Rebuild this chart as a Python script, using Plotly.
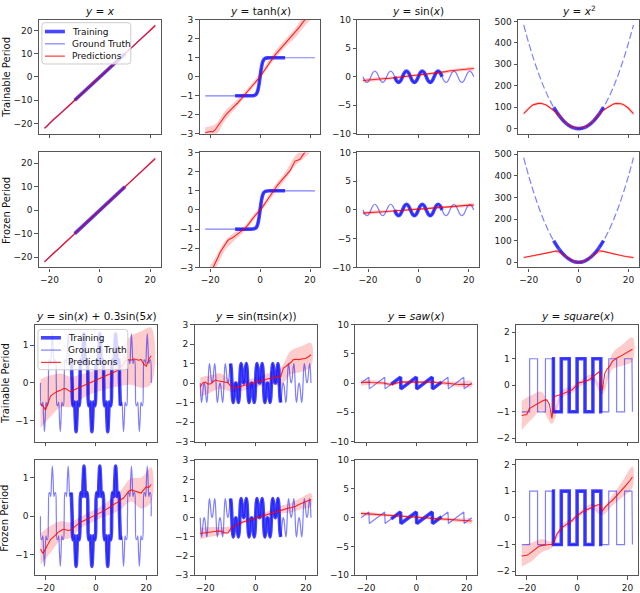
import numpy as np
import plotly.graph_objects as go

# ---------------- data ----------------
X_PRED = list(range(-22, 23))          # prediction sample positions
X_BAND = X_PRED[::4]                   # band sample positions

X_LIN = [-22, -10, 10, 22]
Y_LIN = [-22, -10, 10, 22]

X_TANH = [-22, -10, -4, -3, -2, -1.5, -1, -0.5, 0, 0.5, 1, 1.5, 2, 3, 4, 10, 22]
Y_TANH = [-1, -1, -1, -0.995, -0.964, -0.905, -0.762, -0.462, 0, 0.462, 0.762, 0.905, 0.964, 0.995, 1, 1, 1]

Y_SIN = [0, -0.71, -1, -0.71, 0, 0.71, 1, 0.71,
         0, -0.71, -1, -0.71, 0, 0.71, 1, 0.71,
         0, -0.71, -1, -0.71, 0, 0.71, 1, 0.71,
         0, -0.71, -1, -0.71, 0, 0.71, 1, 0.71,
         0, -0.71, -1, -0.71, 0, 0.71, 1, 0.71,
         0, -0.71, -1, -0.71, 0, 0.71, 1, 0.71,
         0, -0.71, -1, -0.71, 0, 0.71, 1, 0.71, 0]

Y_X2 = [484, 400, 324, 256, 196, 144, 100, 64, 36, 16, 4, 0, 4, 16, 36, 64, 100, 144, 196, 256, 324, 400, 484]

Y_SIN5 = [0, -0.61, -0.59, -0.51, -0.95, -1.3, -0.95, -0.51, -0.59, -0.61, 0, 0.61, 0.59, 0.51, 0.95, 1.3, 0.95, 0.51, 0.59, 0.61,
          0, -0.61, -0.59, -0.51, -0.95, -1.3, -0.95, -0.51, -0.59, -0.61, 0, 0.61, 0.59, 0.51, 0.95, 1.3, 0.95, 0.51, 0.59, 0.61,
          0, -0.61, -0.59, -0.51, -0.95, -1.3, -0.95, -0.51, -0.59, -0.61, 0, 0.61, 0.59, 0.51, 0.95, 1.3, 0.95, 0.51, 0.59, 0.61,
          0, -0.61, -0.59, -0.51, -0.95, -1.3, -0.95, -0.51, -0.59, -0.61, 0, 0.61, 0.59, 0.51, 0.95, 1.3, 0.95, 0.51, 0.59, 0.61,
          0, -0.61, -0.59, -0.51, -0.95, -1.3, -0.95, -0.51, -0.59, -0.61, 0, 0.61, 0.59, 0.51, 0.95, 1.3, 0.95, 0.51, 0.59, 0.61,
          0, -0.61, -0.59, -0.51, -0.95, -1.3, -0.95, -0.51, -0.59, -0.61, 0, 0.61, 0.59, 0.51, 0.95, 1.3, 0.95, 0.51, 0.59, 0.61,
          0, -0.61, -0.59, -0.51, -0.95, -1.3, -0.95, -0.51, -0.59, -0.61, 0, 0.61, 0.59, 0.51, 0.95, 1.3, 0.95, 0.51, 0.59, 0.61, 0]

Y_SINPI = [0, -0.73, -1, -0.8, -0.41, -0.11, 0, -0.11, -0.41, -0.8, -1, -0.73, 0, 0.73, 1, 0.8, 0.41, 0.11, 0, 0.11, 0.41, 0.8, 1, 0.73,
           0, -0.73, -1, -0.8, -0.41, -0.11, 0, -0.11, -0.41, -0.8, -1, -0.73, 0, 0.73, 1, 0.8, 0.41, 0.11, 0, 0.11, 0.41, 0.8, 1, 0.73,
           0, -0.73, -1, -0.8, -0.41, -0.11, 0, -0.11, -0.41, -0.8, -1, -0.73, 0, 0.73, 1, 0.8, 0.41, 0.11, 0, 0.11, 0.41, 0.8, 1, 0.73,
           0, -0.73, -1, -0.8, -0.41, -0.11, 0, -0.11, -0.41, -0.8, -1, -0.73, 0, 0.73, 1, 0.8, 0.41, 0.11, 0, 0.11, 0.41, 0.8, 1, 0.73,
           0, -0.73, -1, -0.8, -0.41, -0.11, 0, -0.11, -0.41, -0.8, -1, -0.73, 0, 0.73, 1, 0.8, 0.41, 0.11, 0, 0.11, 0.41, 0.8, 1, 0.73,
           0, -0.73, -1, -0.8, -0.41, -0.11, 0, -0.11, -0.41, -0.8, -1, -0.73, 0, 0.73, 1, 0.8, 0.41, 0.11, 0, 0.11, 0.41, 0.8, 1, 0.73,
           0, -0.73, -1, -0.8, -0.41, -0.11, 0, -0.11, -0.41, -0.8, -1, -0.73, 0, 0.73, 1, 0.8, 0.41, 0.11, 0, 0.11, 0.41, 0.8, 1, 0.73, 0]

X_SAW = [-22.0, -18.85, -18.7, -12.57, -12.42, -10.0, -6.28, -6.13, 0.0, 0.15, 6.28, 6.43, 10.0, 12.57, 12.72, 18.85, 19.0, 22.0]
Y_SAW = [0.0, 1.0, -1.0, 1.0, -1.0, -0.2, 1.0, -1.0, 1.0, -1.0, 1.0, -1.0, 0.16, 1.0, -1.0, 1.0, -1.0, 0.0]

X_SQW = [-22, -18.85, -18.85, -15.71, -15.71, -12.57, -12.57, -10, -9.42, -9.42, -6.28, -6.28, -3.14, -3.14, 0, 0,
         3.14, 3.14, 6.28, 6.28, 9.42, 9.42, 10, 12.57, 12.57, 15.71, 15.71, 18.85, 18.85, 21.8, 22]
Y_SQW = [-1, -1, 1, 1, -1, -1, 1, 1, 1, -1, -1, 1, 1, -1, -1, 1,
         1, -1, -1, 1, 1, -1, -1, -1, 1, 1, -1, -1, 1, 1, -1]

# predictions (mean), x = -22..22
P11 = [-22.0, -21.2, -19.9, -18.6, -17.8,  -17.0, -15.9, -14.8, -14.0, -13.1,  -12.0, -11.1, -10.0, -9.1, -8.0,
       -7.0, -6.1, -5.0, -4.0, -2.9,  -2.0, -1.0, 0.0, 1.0, 2.0,  3.1, 4.0, 5.0, 6.0, 7.0,
       8.0, 9.1, 10.0, 11.0, 12.1,  13.0, 14.0, 15.1, 16.0, 17.0,  18.1, 19.0, 20.0, 21.1, 22.2]
P21 = [-22.0, -20.9, -20.0, -18.8, -17.9,  -17.1, -16.0, -14.9, -13.9, -13.0,  -12.1, -11.0, -10.0, -9.0, -8.1,
       -7.0, -6.0, -5.1, -4.0, -3.0,  -2.0, -1.0, 0.0, 1.1, 2.0,  3.0, 4.0, 5.1, 6.0, 7.0,
       8.1, 9.0, 10.0, 11.0, 12.0,  13.1, 14.0, 15.0, 16.0, 17.1,  18.0, 19.0, 20.1, 21.0, 22.0]
P12 = [-2.95, -2.9, -2.88, -2.9, -2.8,  -2.6, -2.4, -2.2, -2.05, -1.9,  -1.75, -1.62, -1.5, -1.38, -1.22,
       -1.05, -0.9, -0.75, -0.6, -0.45,  -0.3, -0.15, 0.0, 0.2, 0.42,  0.62, 0.82, 1.02, 1.15, 1.3,
       1.45, 1.6, 1.75, 1.9, 2.02,  2.15, 2.3, 2.5, 2.65, 2.85,  3.0, 3.15, 3.3, 3.45, 3.6]
P22 = [-3.6, -3.45, -3.3, -3.05, -2.8,  -2.5, -2.2, -2.0, -1.85, -1.6,  -1.5, -1.45, -1.35, -1.25, -1.15,
       -1.05, -0.95, -0.8, -0.6, -0.45,  -0.3, -0.15, -0.05, 0.15, 0.35,  0.55, 0.75, 0.95, 1.1, 1.3,
       1.45, 1.6, 1.75, 1.9, 2.05,  2.3, 2.55, 2.6, 2.65, 2.85,  3.05, 3.2, 3.35, 3.5, 3.65]
P13 = [-0.65, -0.6, -0.55, -0.55, -0.5,  -0.45, -0.4, -0.4, -0.35, -0.3,  -0.3, -0.25, -0.2, -0.15, -0.1,
       -0.05, 0.0, 0.05, 0.1, 0.15,  0.2, 0.2, 0.25, 0.3, 0.35,  0.4, 0.45, 0.5, 0.55, 0.6,
       0.7, 0.75, 0.8, 0.9, 1.0,  1.05, 1.1, 1.15, 1.2, 1.25,  1.3, 1.35, 1.4, 1.4, 1.45]
P23 = [-0.55, -0.5, -0.5, -0.45, -0.4,  -0.4, -0.35, -0.35, -0.3, -0.3,  -0.25, -0.25, -0.2, -0.15, -0.1,
       -0.1, -0.05, 0.0, 0.05, 0.05,  0.1, 0.1, 0.15, 0.2, 0.2,  0.25, 0.3, 0.3, 0.35, 0.4,
       0.4, 0.45, 0.5, 0.5, 0.55,  0.6, 0.6, 0.65, 0.7, 0.7,  0.75, 0.8, 0.8, 0.85, 0.85]
P14 = [70, 82, 95, 105, 112,  116, 118, 118, 115, 110,  102, 94, 86, 78, 66,
       50, 37, 26, 17, 10,  5, 3, 2, 3, 5,  10, 17, 26, 37, 50,
       66, 78, 86, 94, 102,  110, 115, 118, 118, 116,  112, 105, 95, 82, 70]
P24 = [22, 24, 26, 28, 30,  32, 34, 37, 39, 42,  44, 47, 50, 53, 50,
       42, 33, 24, 16, 9,  4, 1, 0, 1, 4,  9, 16, 24, 33, 42,
       52, 53, 50, 47, 44,  42, 39, 36, 34, 31,  29, 27, 25, 23, 22]
P31 = [-0.55, -0.62, -0.72, -0.55, -0.35,  -0.3, -0.25, -0.22, -0.2, -0.16,  -0.15, -0.2, -0.24, -0.2, -0.17,
       -0.14, -0.11, -0.08, -0.05, -0.02,  0.0, 0.03, 0.06, 0.09, 0.11,  0.14, 0.17, 0.2, 0.24, 0.27,
       0.31, 0.36, 0.42, 0.5, 0.6,  0.62, 0.6, 0.64, 0.62, 0.6,  0.62, 0.5, 0.44, 0.62, 0.72]
P41 = [-0.85, -0.97, -0.85, -0.72, -0.6,  -0.55, -0.48, -0.42, -0.38, -0.34,  -0.35, -0.37, -0.36, -0.3, -0.25,
       -0.2, -0.16, -0.13, -0.1, -0.07,  -0.03, 0.0, 0.03, 0.07, 0.1,  0.13, 0.17, 0.2, 0.25, 0.3,
       0.33, 0.37, 0.43, 0.47, 0.55,  0.64, 0.68, 0.66, 0.64, 0.63,  0.6, 0.68, 0.76, 0.74, 0.82]
P32 = [-0.2, 0.0, 0.05, -0.05, -0.05,  0.05, 0.15, 0.12, 0.1, 0.05,  0.04, 0.02, -0.15, -0.28, -0.25,
       -0.2, -0.17, -0.14, -0.1, -0.07,  -0.03, 0.0, 0.03, 0.07, 0.1,  0.15, 0.18, 0.22, 0.25, 0.27,
       0.29, 0.3, 0.33, 0.75, 0.85,  0.95, 1.05, 1.2, 1.22, 1.2,  1.22, 1.25, 1.27, 1.35, 1.45]
P42 = [-0.82, -0.8, -0.78, -0.76, -0.74,  -0.72, -0.7, -0.69, -0.7, -0.75,  -0.8, -0.8, -0.6, -0.48, -0.4,
       -0.33, -0.27, -0.22, -0.18, -0.14,  -0.1, -0.05, 0.0, 0.04, 0.08,  0.12, 0.16, 0.2, 0.25, 0.29,
       0.33, 0.38, 0.42, 0.46, 0.48,  0.5, 0.52, 0.55, 0.6, 0.68,  0.74, 0.8, 0.85, 0.9, 0.93]
P33 = [0.05, 0.1, 0.1, 0.15, 0.1,  0.1, 0.05, 0.1, 0.05, 0.0,  -0.1, -0.2, -0.25, -0.15, 0.0,
       0.1, 0.15, 0.2, 0.2, 0.2,  0.15, 0.15, 0.15, 0.2, 0.2,  0.25, 0.2, 0.2, 0.15, 0.15,
       0.1, 0.1, 0.05, 0.0, -0.05,  -0.1, -0.15, -0.2, -0.2, -0.25,  -0.2, -0.25, -0.3, -0.25, -0.2]
P43 = [0.75, 0.72, 0.7, 0.66, 0.63,  0.6, 0.57, 0.54, 0.5, 0.48,  0.45, 0.42, 0.38, 0.35, 0.32,
       0.3, 0.26, 0.23, 0.2, 0.17,  0.14, 0.11, 0.08, 0.05, 0.02,  -0.01, -0.04, -0.07, -0.1, -0.13,
       -0.16, -0.19, -0.22, -0.25, -0.28,  -0.31, -0.34, -0.37, -0.4, -0.43,  -0.46, -0.49, -0.52, -0.55, -0.58]
P34 = [-1.14, -1.12, -1.1, -0.88, -0.82,  -0.79, -0.72, -0.65, -0.6, -0.56,  -0.55, -0.72, -1.25, -0.42, -0.4,
       -0.37, -0.33, -0.3, -0.26, -0.22,  -0.17, -0.08, 0.02, 0.11, 0.12,  0.14, 0.17, 0.22, 0.29, 0.36,
       0.43, 0.53, -0.2, 0.45, 0.62,  0.72, 0.9, 0.98, 1.04, 1.08,  1.14, 1.2, 1.24, 1.3, 1.36]
P44 = [-1.43, -1.42, -1.4, -1.35, -1.27,  -1.2, -1.12, -1.06, -1.04, -1.02,  -1.0, -1.0, -1.0, -0.85, -0.6,
       -0.47, -0.36, -0.3, -0.24, -0.17,  -0.1, 0.0, 0.08, 0.17, 0.22,  0.27, 0.31, 0.36, 0.42, 0.46,
       0.48, 0.5, 0.25, 0.38, 0.5,  0.58, 0.65, 0.75, 0.87, 0.97,  1.07, 1.17, 1.28, 1.4, 1.53]

# uncertainty band half-widths at x = -22, -18, ..., 22
W11 = [0.5] * 12
W21 = [0.5] * 12
W12 = [0.3, 0.3, 0.25, 0.2, 0.15, 0.15, 0.15, 0.2, 0.2, 0.25, 0.3, 0.3]
W22 = [0.3, 0.3, 0.25, 0.2, 0.15, 0.15, 0.15, 0.2, 0.2, 0.25, 0.3, 0.3]
W13 = [0.4, 0.35, 0.3, 0.25, 0.25, 0.2, 0.2, 0.25, 0.25, 0.3, 0.3, 0.3]
W23 = [0.3, 0.3, 0.25, 0.2, 0.2, 0.2, 0.2, 0.2, 0.2, 0.25, 0.3, 0.3]
W14 = [6, 6, 5, 4, 3, 3, 3, 3, 4, 5, 6, 6]
W24 = [4, 4, 3, 3, 3, 2, 2, 3, 3, 3, 4, 4]
W31 = [0.65, 0.55, 0.45, 0.4, 0.33, 0.3, 0.32, 0.38, 0.5, 0.65, 0.75, 0.75]
W41 = [0.4, 0.35, 0.25, 0.2, 0.15, 0.15, 0.15, 0.2, 0.25, 0.3, 0.4, 0.45]
W32 = [0.5, 0.45, 0.4, 0.3, 0.25, 0.25, 0.25, 0.3, 0.45, 0.6, 0.65, 0.6]
W42 = [0.3, 0.25, 0.2, 0.15, 0.1, 0.1, 0.1, 0.15, 0.2, 0.25, 0.3, 0.35]
W33 = [0.5, 0.4, 0.3, 0.25, 0.2, 0.2, 0.2, 0.2, 0.3, 0.4, 0.5, 0.5]
W43 = [0.35, 0.3, 0.25, 0.2, 0.2, 0.2, 0.2, 0.2, 0.25, 0.3, 0.35, 0.4]
W34 = [0.55, 0.45, 0.35, 0.2, 0.15, 0.12, 0.12, 0.12, 0.15, 0.3, 0.4, 0.45]
W44 = [0.4, 0.35, 0.25, 0.12, 0.1, 0.1, 0.1, 0.12, 0.15, 0.2, 0.3, 0.4]

TITLES = ["<i>y</i> = <i>x</i>", "<i>y</i> = tanh(<i>x</i>)", "<i>y</i> = sin(<i>x</i>)", "<i>y</i> = <i>x</i><sup>2</sup>",
          "<i>y</i> = sin(<i>x</i>) + 0.3sin(5<i>x</i>)", "<i>y</i> = sin(πsin(<i>x</i>))",
          "<i>y</i> = <i>saw</i>(<i>x</i>)", "<i>y</i> = <i>square</i>(<i>x</i>)"]
ROW_LABELS = ["Trainable Period", "Frozen Period", "Trainable Period", "Frozen Period"]
LEGEND_LABELS = ["Training", "Ground Truth", "Predictions"]
X_TICKS = [-20, 0, 20]

# ---------------- layout geometry (pixels) ----------------
W, H = 640, 593
COLS_TOP = [(39, 161), (200, 321), (358, 480), (519, 640)]
COLS_BOT = [(35, 157), (195, 317), (356, 478), (517, 639)]
ROWS = [(15, 131), (150, 267), (325, 444), (463, 580)]

C_GT = "rgba(0,0,255,0.5)"
C_TR = "rgba(0,0,255,0.72)"
C_PR = "rgba(255,0,0,0.85)"
C_BAND = "rgba(255,0,0,0.2)"

TRUTH = {
    "lin": (X_LIN, Y_LIN, "linear", "solid"),
    "tanh": (X_TANH, Y_TANH, "spline", "solid"),
    "sin": (list(np.linspace(-22, 22, len(Y_SIN))), Y_SIN, "spline", "solid"),
    "x2": (list(np.linspace(-22, 22, len(Y_X2))), Y_X2, "spline", "7px,3px"),
    "sin5": (list(np.linspace(-22, 22, len(Y_SIN5))), Y_SIN5, "spline", "solid"),
    "sinpi": (list(np.linspace(-22, 22, len(Y_SINPI))), Y_SINPI, "spline", "solid"),
    "saw": (X_SAW, Y_SAW, "linear", "solid"),
    "sqw": (X_SQW, Y_SQW, "linear", "solid"),
}

PANELS = [
    # row, col, truth, pred, band, yrange, yticks
    (0, 0, "lin", P11, W11, [-24.4, 24.6], [-20, -10, 0, 10, 20]),
    (0, 1, "tanh", P12, W12, [-3, 3], [-3, -2, -1, 0, 1, 2, 3]),
    (0, 2, "sin", P13, W13, [-10, 10], [-10, -5, 0, 5, 10]),
    (0, 3, "x2", P14, W14, [-24, 508], [0, 100, 200, 300, 400, 500]),
    (1, 0, "lin", P21, W21, [-24.4, 24.6], [-20, -10, 0, 10, 20]),
    (1, 1, "tanh", P22, W22, [-3, 3], [-3, -2, -1, 0, 1, 2, 3]),
    (1, 2, "sin", P23, W23, [-10, 10], [-10, -5, 0, 5, 10]),
    (1, 3, "x2", P24, W24, [-24, 508], [0, 100, 200, 300, 400, 500]),
    (2, 0, "sin5", P31, W31, [-1.56, 1.55], [-1, 0, 1]),
    (2, 1, "sinpi", P32, W32, [-3, 3], [-3, -2, -1, 0, 1, 2, 3]),
    (2, 2, "saw", P33, W33, [-10, 10], [-10, -5, 0, 5, 10]),
    (2, 3, "sqw", P34, W34, [-2.12, 2.29], [-2, -1, 0, 1, 2]),
    (3, 0, "sin5", P41, W41, [-1.53, 1.45], [-1, 0, 1]),
    (3, 1, "sinpi", P42, W42, [-3, 3], [-3, -2, -1, 0, 1, 2, 3]),
    (3, 2, "saw", P43, W43, [-10, 10], [-10, -5, 0, 5, 10]),
    (3, 3, "sqw", P44, W44, [-2.15, 2.16], [-2, -1, 0, 1, 2]),
]

FONT = "DejaVu Sans"
SPINE = "#555555"
fig = go.Figure()
layout = {}
annotations = []
shapes = []

for (r, c, tkey, pred, band, yr, yt) in PANELS:
    k = r * 4 + c + 1
    sfx = "" if k == 1 else str(k)
    xa, ya = "x" + sfx, "y" + sfx

    # band
    cen = pred[::4]
    up = [m + w for m, w in zip(cen, band)]
    lo = [m - w for m, w in zip(cen, band)]
    fig.add_trace(go.Scatter(x=X_BAND + X_BAND[::-1], y=up + lo[::-1], fill="toself",
                             fillcolor=C_BAND, line=dict(width=0, shape="spline"),
                             mode="lines", hoverinfo="skip", showlegend=False, xaxis=xa, yaxis=ya))
    tx, ty, shape, dash = TRUTH[tkey]
    # ground truth
    fig.add_trace(go.Scatter(x=tx, y=ty, mode="lines", name="Ground Truth",
                             line=dict(color=C_GT, width=1.2, shape=shape, dash=dash),
                             showlegend=False, xaxis=xa, yaxis=ya))
    # training part
    trx = [x for x in tx if -10 <= x <= 10]
    tr_y = [y for x, y in zip(tx, ty) if -10 <= x <= 10]
    fig.add_trace(go.Scatter(x=trx, y=tr_y, mode="lines", name="Training",
                             line=dict(color=C_TR, width=3.6, shape=shape),
                             showlegend=False, xaxis=xa, yaxis=ya))
    # predictions
    fig.add_trace(go.Scatter(x=X_PRED, y=pred, mode="lines", name="Predictions",
                             line=dict(color=C_PR, width=1.1),
                             showlegend=False, xaxis=xa, yaxis=ya))

    cx = COLS_TOP[c] if r < 2 else COLS_BOT[c]
    ry = ROWS[r]
    common = dict(showgrid=False, zeroline=False, showline=True, mirror=True, linecolor=SPINE, linewidth=1.2,
                  ticks="outside", ticklen=3.5, tickwidth=1, tickcolor=SPINE,
                  tickfont=dict(family=FONT, size=9, color="#1a1a1a"))
    layout["xaxis" + sfx] = dict(domain=[cx[0] / W, cx[1] / W], anchor=ya, range=[-24.2, 24.2],
                                 tickvals=X_TICKS, showticklabels=(r in (1, 3)), **common)
    layout["yaxis" + sfx] = dict(domain=[1 - ry[1] / H, 1 - ry[0] / H], anchor=xa, range=yr,
                                 tickvals=yt, **common)
    if r in (0, 2):
        annotations.append(dict(text=TITLES[(r // 2) * 4 + c], x=(cx[0] + cx[1]) / 2 / W, y=1 - (ry[0] - 1) / H,
                                xref="paper", yref="paper", xanchor="center", yanchor="bottom",
                                showarrow=False, font=dict(family=FONT, size=10.5, color="#111")))
    if c == 0:
        annotations.append(dict(text=ROW_LABELS[r], x=(7 if r < 2 else 5) / W, y=1 - (ry[0] + ry[1]) / 2 / H,
                                xref="paper", yref="paper", xanchor="center", yanchor="middle", textangle=-90,
                                showarrow=False, font=dict(family=FONT, size=10, color="#111")))


# ---------------- hand-drawn legends (pixel boxes) ----------------
def px(x):
    return x / W


def py(y):
    return 1 - y / H


def add_legend(box, rows_y, line_x, text_x):
    x0, y0, x1, y1 = box
    rad = 3
    path = (f"M {px(x0 + rad)},{py(y0)} L {px(x1 - rad)},{py(y0)} Q {px(x1)},{py(y0)} {px(x1)},{py(y0 + rad)} "
            f"L {px(x1)},{py(y1 - rad)} Q {px(x1)},{py(y1)} {px(x1 - rad)},{py(y1)} "
            f"L {px(x0 + rad)},{py(y1)} Q {px(x0)},{py(y1)} {px(x0)},{py(y1 - rad)} "
            f"L {px(x0)},{py(y0 + rad)} Q {px(x0)},{py(y0)} {px(x0 + rad)},{py(y0)} Z")
    shapes.append(dict(type="path", path=path, xref="paper", yref="paper",
                       fillcolor="rgba(255,255,255,0.8)", line=dict(color="#cccccc", width=1), layer="above"))
    styles = [(C_TR, 3.6), (C_GT, 1.2), (C_PR, 1.1)]
    for yy, (col, wd), lab in zip(rows_y, styles, LEGEND_LABELS):
        shapes.append(dict(type="line", xref="paper", yref="paper", x0=px(line_x[0]), x1=px(line_x[1]),
                           y0=py(yy), y1=py(yy), line=dict(color=col, width=wd), layer="above"))
        annotations.append(dict(text=lab, x=px(text_x), y=py(yy), xref="paper", yref="paper",
                                xanchor="left", yanchor="middle", showarrow=False,
                                font=dict(family=FONT, size=9, color="#111")))


add_legend((42, 18, 131, 60), [27, 39.5, 52], (45, 65), (70))
add_legend((38, 330, 128, 371), [338.5, 351, 363.5], (41, 61), (66))

fig.update_layout(
    width=W, height=H, margin=dict(l=0, r=0, t=0, b=0),
    paper_bgcolor="white", plot_bgcolor="white",
    annotations=annotations, shapes=shapes, showlegend=False,
    **layout,
)
fig.write_html("out.html")
